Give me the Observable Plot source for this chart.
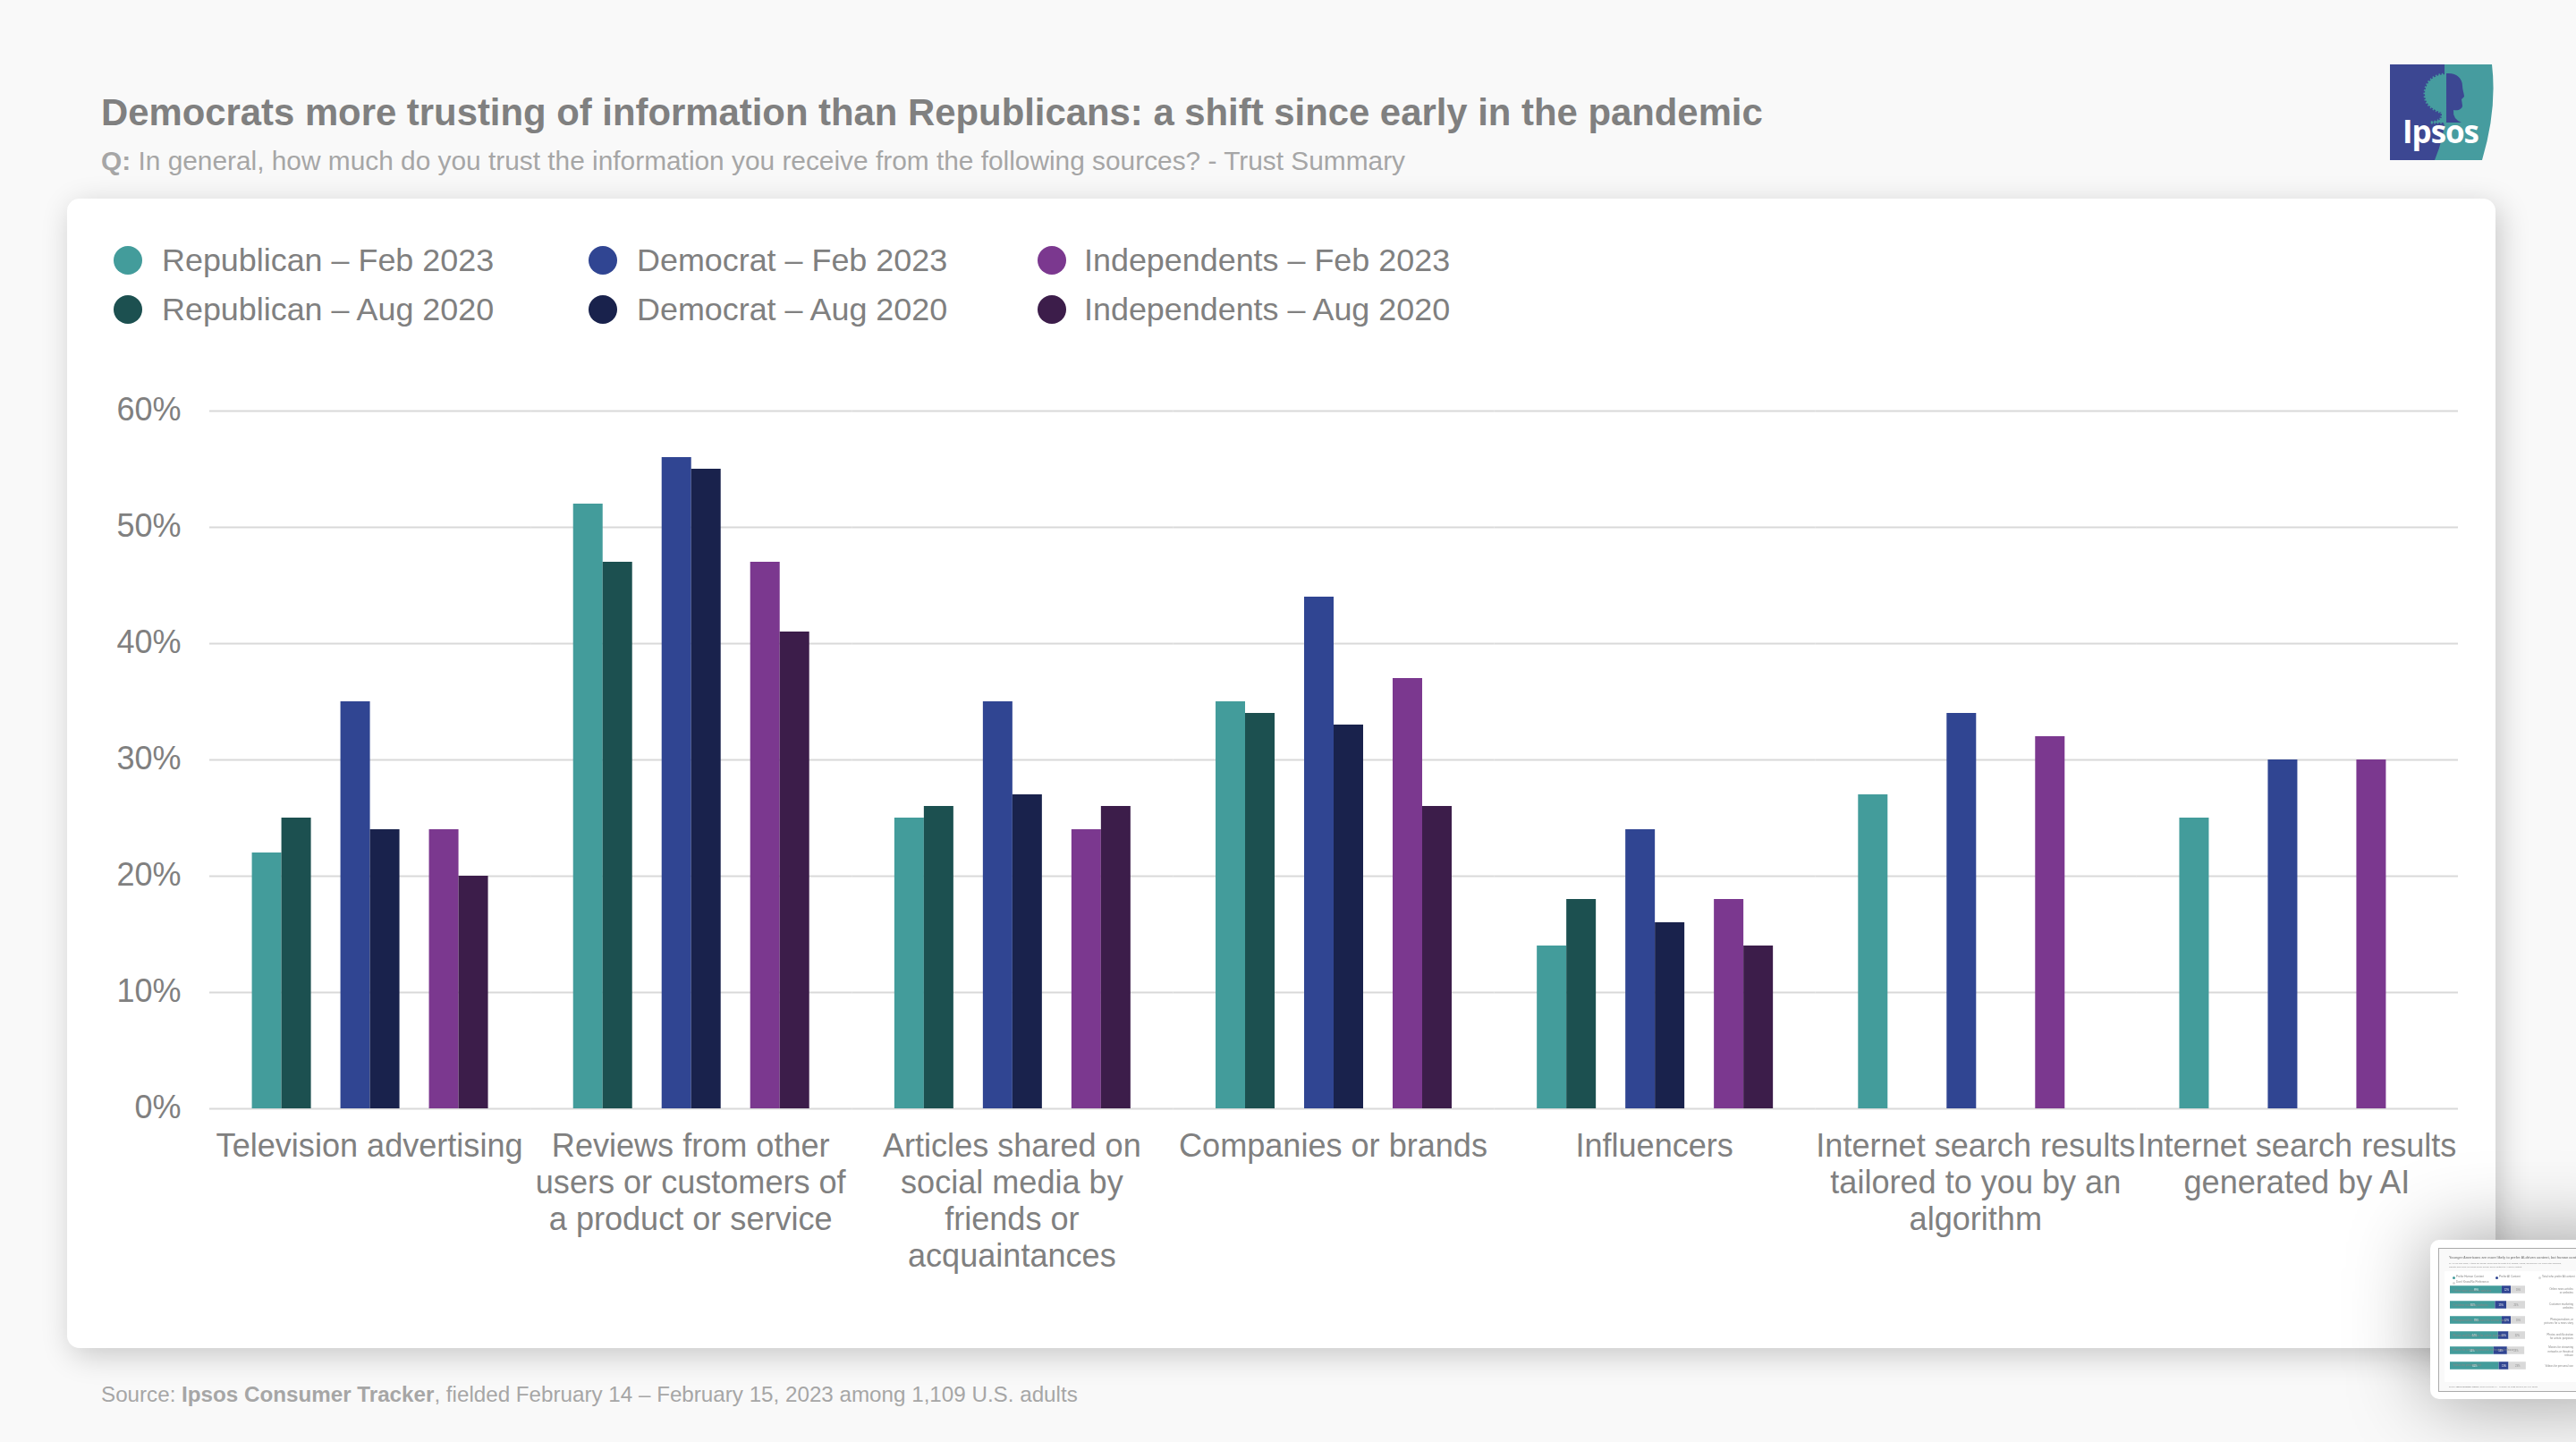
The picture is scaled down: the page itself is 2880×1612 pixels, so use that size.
<!DOCTYPE html>
<html>
<head>
<meta charset="utf-8">
<script src="https://cdn.jsdelivr.net/npm/d3@7"></script>
<script src="https://cdn.jsdelivr.net/npm/@observablehq/plot@0.6"></script>
<style>
  html, body { margin: 0; padding: 0; }
  body { width: 2880px; height: 1612px; overflow: hidden; position: relative; background: #f9f9f9; font-family: "Liberation Sans", Arial, sans-serif; }
  .abs { position: absolute; white-space: nowrap; }
  #title { left: 113px; top: 101px; font-size: 41.85px; line-height: 50px; font-weight: bold; color: #808080; }
  #subtitle { left: 113px; top: 163px; font-size: 29.85px; line-height: 34px; color: #a6a6a6; }
  #source { left: 113px; top: 1545px; font-size: 24.2px; line-height: 28px; color: #a6a6a6; }
  #card { left: 75px; top: 222px; width: 2715px; height: 1285px; background: #fff; border-radius: 14px; box-shadow: 5px 8px 34px rgba(0,0,0,.2); }
  #grafico { left: 0; top: 178px; }
  .leg { font-size: 35.9px; line-height: 42px; color: #808080; }
  .dot { width: 32px; height: 32px; border-radius: 50%; }
  #logo { left: 2672px; top: 72px; }
  #thumb { left: 2717px; top: 1386px; width: 240px; height: 178px; background: #fff; border-radius: 10px 0 0 10px; box-shadow: 0 0 90px rgba(0,0,0,.38); }
  #slide { left: 9px; top: 9px; width: 240px; height: 159px; background: #f9f9f9; border: 1px solid #aaa; filter: blur(.6px); overflow: hidden; }
  #slideCard { left: 6px; top: 25px; width: 240px; height: 124px; background: #fff; border-radius: 1px; }
  #slide .t { position: absolute; white-space: nowrap; color: #888; }
</style>
</head>
<body>
<div id="title" class="abs">Democrats more trusting of information than Republicans: a shift since early in the pandemic</div>
<div id="subtitle" class="abs"><b>Q:</b> In general, how much do you trust the information you receive from the following sources? - Trust Summary</div>
<svg id="logo" class="abs" width="118" height="107" viewBox="0 0 118 107">
  <rect width="62" height="107" fill="#3c4792"/>
  <path d="M61 0H114Q120 50 103 107H50Q61 80 61 62Z" fill="#469c9f"/>
  <path d="M63 11C47 11 39 22 39 33C39 45 47 50 58 54V59Q56 64 45 65H63Z" fill="#469c9f" stroke="#469c9f" stroke-width="3" stroke-dasharray="1.5 2"/>
  <path d="M63 10C74 9 81 15 81 24C81 28 83 33 83 36L80 39L81 46C81 50 76 52 71 51Q70 61 80 65H63Z" fill="#3c4792"/>
  <text x="14" y="88" font-family="Open Sans" font-weight="700" font-size="35" fill="#fff" textLength="86">Ipsos</text>
</svg>
<div id="card" class="abs"><div id="leyenda"></div><div id="grafico" class="abs"></div></div>
<div id="source" class="abs">Source: <b>Ipsos Consumer Tracker</b>, fielded February 14 – February 15, 2023 among 1,109 U.S. adults</div>
<div id="thumb" class="abs"><div id="slide" class="abs"><div id="slideCard" class="abs"></div></div></div>

<script>
// datos del grafico principal
const categorias = [
  "Television advertising",
  "Reviews from other\nusers or customers of\na product or service",
  "Articles shared on\nsocial media by\nfriends or\nacquaintances",
  "Companies or brands",
  "Influencers",
  "Internet search results\ntailored to you by an\nalgorithm",
  "Internet search results\ngenerated by AI"
]
const series = ["Republican – Feb 2023", "Republican – Aug 2020", "Democrat – Feb 2023", "Democrat – Aug 2020", "Independents – Feb 2023", "Independents – Aug 2020"]
const colores = ["#439c9b", "#1c5050", "#304592", "#19224c", "#7b388f", "#3c1d4a"]
const repFeb23 = [22, 52, 25, 35, 14, 27, 25]
const repAug20 = [25, 47, 26, 34, 18, null, null]
const demFeb23 = [35, 56, 35, 44, 24, 34, 30]
const demAug20 = [24, 55, 27, 33, 16, null, null]
const indFeb23 = [24, 47, 24, 37, 18, 32, 30]
const indAug20 = [20, 41, 26, 26, 14, null, null]
const yTicks = [0, 10, 20, 30, 40, 50, 60]

// datos de la miniatura de abajo a la derecha
const thumbFilas = ["Online news articles or websites", "Customer marketing websites", "Photojournalism, or pictures for a news story", "Photos and illustration for artistic purposes", "Movies for streaming networks or theatrical release", "Videos for personal use"]
const thumbDerecha = ["Online news articles\nor websites", "Customer marketing\nwebsites", "Photojournalism, or\npictures for a news story", "Photos and illustration\nfor artistic purposes", "Movies for streaming\nnetworks or theatrical\nrelease", "Videos for personal use"]
const thumbHuman = [69, 60, 69, 64, 58, 65]
const thumbAI = [12, 15, 12, 14, 18, 13]
const thumbDK = [19, 25, 19, 22, 23, 23]

const valores = [repFeb23, repAug20, demFeb23, demAug20, indFeb23, indAug20]
const tabla = []
series.forEach((s, i) => {
  categorias.forEach((c, j) => {
    if (valores[i][j] != null) tabla.push({categoria: c, serie: s, valor: valores[i][j]})
  })
})

// huecos entre los pares de barras
const slots = [series[0], series[1], "gap1", series[2], series[3], "gap2", series[4], series[5]]

// leyenda
const legendCols = [[67, 106], [598, 637], [1100, 1137]]
const legend = document.getElementById("leyenda")
series.forEach((s, i) => {
  const col = legendCols[Math.floor(i / 2)]
  const top = i % 2 == 0 ? 69 : 124
  const dot = document.createElement("div")
  dot.className = "abs dot"
  dot.style.cssText = `left:${col[0] - 16 + 0.5}px;top:${top - 16}px;background:${colores[i]}`
  const txt = document.createElement("div")
  txt.className = "abs leg"
  txt.style.cssText = `left:${col[1]}px;top:${top - 21}px`
  txt.textContent = s
  legend.append(dot, txt)
})

// el hueco de cada lado de la faceta, para que la grilla quede continua
const hueco = 47.6

const chart = Plot.plot({
  width: 2715,
  height: 1107,
  marginLeft: 159,
  marginRight: 42,
  marginTop: 59,
  marginBottom: 268,
  style: {
    fontFamily: "Liberation Sans",
    fontSize: "36px",
    color: "#808080",
    background: "transparent",
  },
  fx: { domain: categorias, paddingInner: 0.265, paddingOuter: 0.1325, round: false, axis: null, label: null },
  x: { domain: slots, padding: 0, round: false, axis: null },
  y: { domain: [0, 60], axis: null },
  color: { domain: series, range: colores },
  marks: [
    Plot.ruleY(yTicks, { stroke: "#d9d9d9", strokeWidth: 2, strokeOpacity: 1, insetLeft: -hueco, insetRight: -hueco }),
    Plot.barY(tabla, { fx: "categoria", x: "serie", y: "valor", fill: "serie" }),
    Plot.axisY(yTicks, { anchor: "left", tickSize: 0, tickPadding: 32 + hueco, dy: -1, tickFormat: d => d + "%", label: null }),
    Plot.axisFx({ anchor: "bottom", tickSize: 0, tickPadding: 24, dx: -1, fontSize: 36.1, lineHeight: 1.14, label: null, tickFormat: d => d }),
  ],
})
document.getElementById("grafico").append(chart)

// miniatura, va desenfocada como en la captura
const slide = document.getElementById("slide")
function texto(str, x, y, size, opts = {}) {
  const el = document.createElement("div")
  el.className = "t"
  el.innerHTML = str
  el.style.cssText = `left:${x}px;top:${y}px;font-size:${size}px;line-height:${size * 1.2}px;` + (opts.css || "")
  slide.append(el)
}
texto("<b>Younger Americans are more likely to prefer AI-driven content, but human content is preferred overall</b>", 11, 7.5, 3.8)
texto("Q: As you may know, AI tools are already being used to create text, images, videos, and movies. For each of the following,", 11, 15, 2.35)
texto("indicate how much you would prefer human-driven content or AI-driven content.", 11, 18.5, 2.35)

const thumbTabla = []
thumbFilas.forEach((f, i) => {
  thumbTabla.push({fila: f, tipo: "Prefer Human Content", valor: thumbHuman[i]})
  thumbTabla.push({fila: f, tipo: "Prefer AI Content", valor: thumbAI[i]})
  thumbTabla.push({fila: f, tipo: "Don't Know/No Preference", valor: thumbDK[i]})
})
const thumbChart = Plot.plot({
  width: 90,
  height: 102,
  marginLeft: 1,
  marginRight: 5,
  marginTop: 0,
  marginBottom: 0,
  style: { fontFamily: "Liberation Sans", fontSize: "2.6px", background: "transparent" },
  x: { domain: [0, 100], axis: null },
  y: { domain: thumbFilas, axis: null, paddingInner: 0.5, paddingOuter: 0.25, round: false },
  color: { domain: ["Prefer Human Content", "Prefer AI Content", "Don't Know/No Preference"], range: ["#439c9b", "#304592", "#d9d9d9"] },
  marks: [
    Plot.barX(thumbTabla, Plot.stackX({ y: "fila", x: "valor", fill: "tipo", order: null })),
    Plot.text(thumbTabla, Plot.stackX({ y: "fila", x: "valor", order: null, text: d => d.valor + "%", fill: d => d.tipo.startsWith("Don") ? "#888" : "#fff" })),
  ],
})
thumbChart.style.cssText += ";position:absolute;left:11px;top:37px"
slide.append(thumbChart)

const legThumb = [["Prefer Human Content", 15, 32, "#439c9b"], ["Prefer AI Content", 63, 32, "#304592"], ["Don't Know/No Preference", 15, 37.5, "#d9d9d9"], ["Total who prefer AI content", 111, 32, "#d9d9d9"]]
legThumb.forEach(l => {
  texto(l[0], l[1] + 4, l[2] - 2, 3.1)
  const d = document.createElement("div")
  d.style.cssText = `position:absolute;left:${l[1]}px;top:${l[2] - 1}px;width:3px;height:3px;border-radius:50%;background:${l[3]}`
  slide.append(d)
})
thumbFilas.forEach((f, i) => texto(f, 15.5, 45.5 + i * 16.67, 3))
thumbDerecha.forEach((f, i) => {
  const lineas = f.split("\n")
  lineas.forEach((ln, k) => {
    const y = 48 + i * 16.9 + (k - lineas.length / 2) * 4.2
    texto(ln, 0, y, 3, { css: "left:auto;right:90px" })
  })
})
texto("Source: <b>Ipsos Consumer Tracker</b>, fielded February 14 – February 15, 2023 among 1,109 U.S. adults", 11, 153, 2.2)
</script>
</body>
</html>
